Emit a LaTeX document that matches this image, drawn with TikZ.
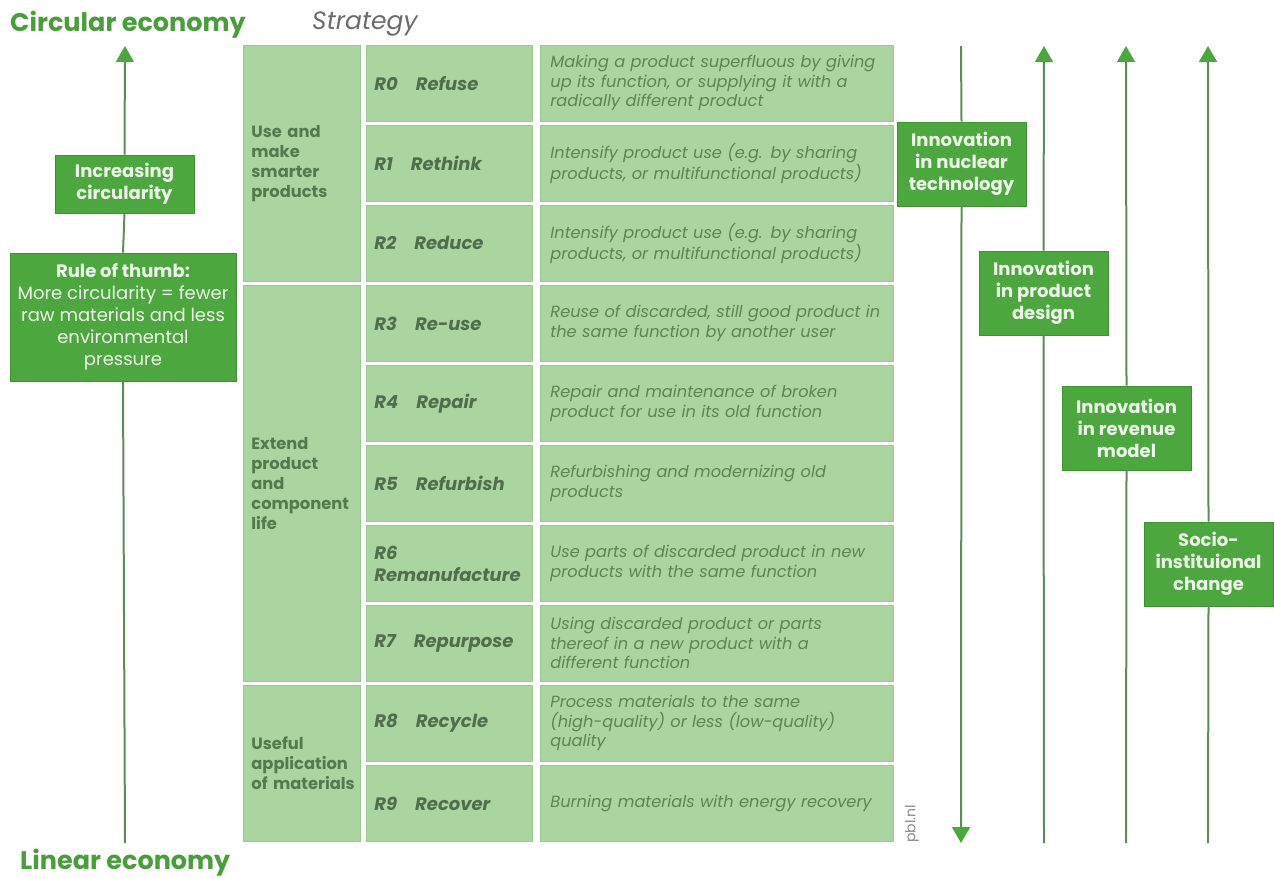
\documentclass[tikz,border=0pt]{standalone}
\usepackage{fontspec}
\setmainfont{Poppins}
\usetikzlibrary{arrows.meta}
\definecolor{cellg}{HTML}{AAD5A1}
\definecolor{cellb}{HTML}{9CC893}
\definecolor{boxg}{HTML}{4DA73F}
\definecolor{boxb}{HTML}{3F8F33}
\definecolor{boxtxt}{HTML}{EEF8EA}
\definecolor{titleg}{HTML}{4A9D3B}
\definecolor{codetxt}{HTML}{4F6E4B}
\definecolor{cattxt}{HTML}{527A4D}
\definecolor{desctxt}{HTML}{5B8653}
\definecolor{linec}{HTML}{5F8B5C}
\definecolor{graytxt}{HTML}{6B6B6B}
\hyphenpenalty=10000
\exhyphenpenalty=10000
\begin{document}
\begin{tikzpicture}[x=1pt,y=-1pt,
  cell/.style={draw=cellb, fill=cellg, line width=0.8pt, inner sep=0pt, minimum height=76pt, anchor=north west},
  cat/.style={cell, minimum width=117pt, text width=101pt, align=left, text=cattxt,
    font=\fontsize{16.3}{20}\selectfont\bfseries},
  code/.style={cell, minimum width=166pt, text width=150pt, align=left, text=codetxt,
    font=\fontsize{18}{22}\selectfont\bfseries\itshape},
  desc/.style={cell, minimum width=353pt, text width=333pt, align=left, text=desctxt,
    font=\fontsize{16.2}{19.5}\selectfont\itshape},
  gbox/.style={draw=boxb, fill=boxg, line width=0.8pt, text=boxtxt, align=center, inner sep=0pt,
    font=\fontsize{18}{22}\selectfont\bfseries},
  conn/.style={draw=linec, line width=2pt},
  arr/.style={conn, -{Triangle[color=boxg, width=18pt, length=16pt]}},
  title/.style={anchor=base west, text=titleg, inner sep=0pt, font=\fontsize{25.5}{28}\selectfont\bfseries}
]
\useasboundingbox (0,0) rectangle (1274,878);

% titles
\node[title] (tcirc) at (10,31) {Circular economy};
\node[title] (tlin) at (20,869) {Linear economy};
\node[anchor=base west, inner sep=0pt, text=graytxt, font=\fontsize{25}{28}\selectfont\itshape] (tstrat) at (312,29) {Strategy};

% category column
\node[cat, minimum height=236pt] (c1) at (243,45) {Use and\\make\\smarter\\products};
\node[cat, minimum height=396pt] (c2) at (243,285) {Extend\\product\\and\\\mbox{component}\\life};
\node[cat, minimum height=156pt] (c3) at (243,685) {Useful\\\mbox{application}\\\mbox{of materials}};

% code column
\node[code] (r0) at (366,45)  {R0\hspace{18pt}Refuse};
\node[code] (r1) at (366,125) {R1\hspace{18pt}Rethink};
\node[code] (r2) at (366,205) {R2\hspace{18pt}Reduce};
\node[code] (r3) at (366,285) {R3\hspace{18pt}Re-use};
\node[code] (r4) at (366,365) {R4\hspace{18pt}Repair};
\node[code] (r5) at (366,445) {R5\hspace{18pt}Refurbish};
\node[code] (r6) at (366,525) {R6\\Remanufacture};
\node[code] (r7) at (366,605) {R7\hspace{18pt}Repurpose};
\node[code] (r8) at (366,685) {R8\hspace{18pt}Recycle};
\node[code] (r9) at (366,765) {R9\hspace{18pt}Recover};

% description column
\node[desc] (d0) at (540,45)  {\mbox{Making a product superfluous by giving}\\up its function, or supplying it with a\\radically different product};
\node[desc] (d1) at (540,125) {Intensify product use (e.g. by sharing\\products, or multifunctional products)};
\node[desc] (d2) at (540,205) {Intensify product use (e.g. by sharing\\products, or multifunctional products)};
\node[desc] (d3) at (540,285) {\mbox{Reuse of discarded, still good product in}\\the same function by another user};
\node[desc] (d4) at (540,365) {Repair and maintenance of broken\\product for use in its old function};
\node[desc] (d5) at (540,445) {Refurbishing and modernizing old\\products};
\node[desc] (d6) at (540,525) {Use parts of discarded product in new\\products with the same function};
\node[desc] (d7) at (540,605) {Using discarded product or parts\\thereof in a new product with a\\different function};
\node[desc] (d8) at (540,685) {Process materials to the same\\(high-quality) or less (low-quality)\\quality};
\node[desc] (d9) at (540,765) {\mbox{Burning materials with energy recovery}};

\node[rotate=90, anchor=west, inner sep=0pt, text=graytxt!80, font=\fontsize{14}{16}\selectfont] (pbl) at (912,843) {pbl.nl};

% left axis
\coordinate (lbot) at (125,843);
\coordinate (ltop) at (125,46);
\node[gbox, minimum width=139pt, minimum height=58pt] (inc) at (124.5,184) {Increasing\\circularity};
\node[gbox, minimum width=226pt, minimum height=128pt, font=\fontsize{18}{22}\selectfont] (rule) at (123,317)
  {\textbf{Rule of thumb:}\\More circularity = fewer\\raw materials and less\\environmental\\pressure};
\draw[conn] (lbot) -- (rule.south);
\draw[conn] (rule.north) -- (inc.south);
\draw[arr] (inc.north) -- (ltop);

% right axes
\coordinate (a1top) at (961,46);
\coordinate (a1bot) at (961,843);
\node[gbox, minimum width=129pt, minimum height=84pt] (nuc) at (961.5,164) {Innovation\\in nuclear\\technology};
\draw[conn] (a1top) -- (nuc.north);
\draw[arr] (nuc.south) -- (a1bot);

\coordinate (a2top) at (1044,46);
\coordinate (a2bot) at (1044,843);
\node[gbox, minimum width=129pt, minimum height=84pt] (des) at (1043.5,293) {Innovation\\in product\\design};
\draw[conn] (a2bot) -- (des.south);
\draw[arr] (des.north) -- (a2top);

\coordinate (a3top) at (1126,46);
\coordinate (a3bot) at (1126,843);
\node[gbox, minimum width=129pt, minimum height=84pt] (rev) at (1126.5,428) {Innovation\\in revenue\\model};
\draw[conn] (a3bot) -- (rev.south);
\draw[arr] (rev.north) -- (a3top);

\coordinate (a4top) at (1208,46);
\coordinate (a4bot) at (1208,843);
\node[gbox, minimum width=129pt, minimum height=84pt] (soc) at (1208.5,564) {Socio-\\instituional\\change};
\draw[conn] (a4bot) -- (soc.south);
\draw[arr] (soc.north) -- (a4top);
\end{tikzpicture}
\end{document}
